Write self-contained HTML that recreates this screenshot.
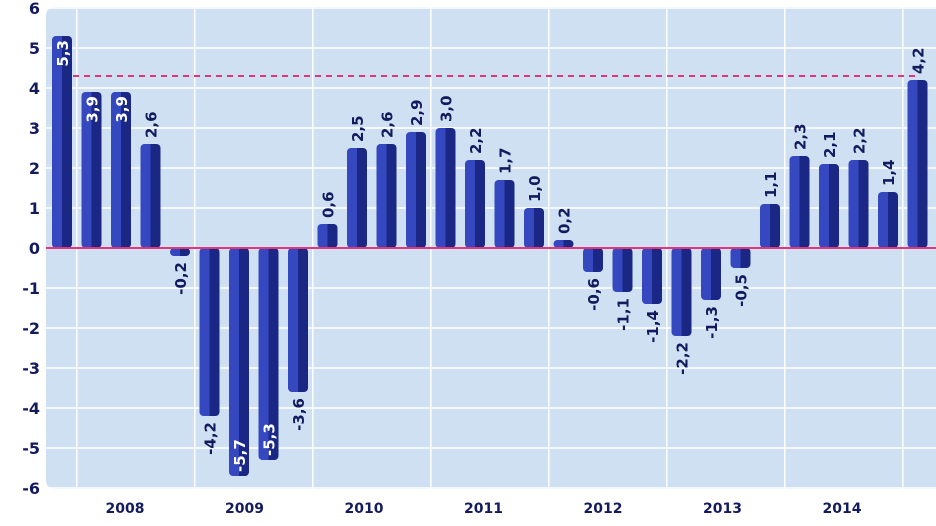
<!DOCTYPE html>
<html><head><meta charset="utf-8"><style>
body{margin:0;background:#fff;}
svg{display:block;font-family:"DejaVu Sans","Liberation Sans",sans-serif;}
</style></head><body>
<svg id="c" width="936" height="526">
<defs>
<linearGradient id="bg" x1="0" x2="1"><stop offset="0.5" stop-color="#3548c0"/><stop offset="0.5" stop-color="#1a2784"/></linearGradient>
</defs>
</svg>
<script>
const values=[5.3,3.9,3.9,2.6,-0.2,-4.2,-5.7,-5.3,-3.6,0.6,2.5,2.6,2.9,3.0,2.2,1.7,1.0,0.2,-0.6,-1.1,-1.4,-2.2,-1.3,-0.5,1.1,2.3,2.1,2.2,1.4,4.2];
const labels=["5,3","3,9","3,9","2,6","-0,2","-4,2","-5,7","-5,3","-3,6","0,6","2,5","2,6","2,9","3,0","2,2","1,7","1,0","0,2","-0,6","-1,1","-1,4","-2,2","-1,3","-0,5","1,1","2,3","2,1","2,2","1,4","4,2"];
const insideLabel=[1,1,1,0,0,0,1,1,0,0,0,0,0,0,0,0,0,0,0,0,0,0,0,0,0,0,0,0,0,0];
const years=["2008","2009","2010","2011","2012","2013","2014"];
const yTicks=[6,5,4,3,2,1,0,-1,-2,-3,-4,-5,-6];
const refLine=4.3;
const NS="http://www.w3.org/2000/svg";
const svg=document.getElementById('c');
const y=v=>248-v*40;
const x=i=>62+i*29.5;
function mk(t,a,p){const e=document.createElementNS(NS,t);for(const k in a)e.setAttribute(k,a[k]);(p||svg).appendChild(e);return e;}
const plot=mk('rect',{x:46,y:7,width:900,height:482,rx:8,fill:'#cfe0f3'});


yTicks.forEach(v=>{
  const l=mk('line',{x1:46,x2:936,y1:y(v),y2:y(v),stroke:'#fff','stroke-width':1.5});
  
  
  const t=mk('text',{x:40,y:y(v)+6,'text-anchor':'end','font-size':16,'font-weight':'bold',fill:'#141a5e'});
  t.textContent=v;
  
  
});
for(let k=0;k<8;k++){
  const gx=x(0)+14.75+118*k;
  const l=mk('line',{x1:gx,x2:gx,y1:7,y2:489,stroke:'#fff','stroke-width':1.5});
  
  
}
years.forEach((yr,k)=>{
  const t=mk('text',{x:125+k*119.5,y:513,'text-anchor':'middle','font-size':14,'font-weight':'bold',fill:'#141a5e'});
  t.textContent=yr;
  
  
});
const ref=mk('line',{x1:x(0),x2:x(values.length-1),y1:y(refLine),y2:y(refLine),stroke:'#e0357a','stroke-width':2,'stroke-dasharray':'6,5'});


values.forEach((v,i)=>{
  const top=Math.min(y(v),y(0)),h=Math.max(Math.abs(y(v)-y(0)),2);
  const b=mk('rect',{x:x(i)-10,y:top,width:20,height:h,rx:4,fill:'url(#bg)'});
  
  
  const ins=insideLabel[i]===1;
  let ax,anchor;
  if(v>=0){ if(ins){ax=y(v)+4;anchor='end';} else {ax=y(v)-6;anchor='start';} }
  else { if(ins){ax=y(v)-4;anchor='start';} else {ax=y(v)+6;anchor='end';} }
  const tx=x(i)+6;
  const t=mk('text',{x:tx,y:ax,'text-anchor':anchor,'font-size':15,'font-weight':'bold',fill:ins?'#fff':'#141a5e',transform:`rotate(-90 ${tx} ${ax})`});
  t.textContent=labels[i];
  
  
});
const z=mk('line',{x1:46,x2:936,y1:y(0),y2:y(0),stroke:'#e0357a','stroke-width':2});


</script>
</body></html>
